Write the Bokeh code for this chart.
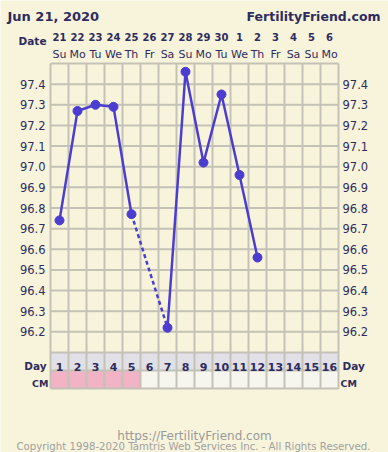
from bokeh.plotting import figure
from bokeh.models import Range1d
from bokeh.embed import file_html
from bokeh.resources import INLINE
from bokeh.core.properties import value
import math

# ---------------- data ----------------
title_date = "Jun 21, 2020"
site_name = "FertilityFriend.com"
cycle_days = list(range(1, 17))
dates = ["21", "22", "23", "24", "25", "26", "27", "28", "29", "30",
         "1", "2", "3", "4", "5", "6"]
weekdays = ["Su", "Mo", "Tu", "We", "Th", "Fr", "Sa", "Su",
            "Mo", "Tu", "We", "Th", "Fr", "Sa", "Su", "Mo"]
temp_days = list(range(1, 13))
temps = [96.74, 97.27, 97.30, 97.29, 96.77, None, 96.22,
         97.46, 97.02, 97.35, 96.96, 96.56]
temp_ticks = [96.2, 96.3, 96.4, 96.5, 96.6, 96.7, 96.8,
              96.9, 97.0, 97.1, 97.2, 97.3, 97.4]
temp_min, temp_max = 96.1, 97.5
menses_days = [1, 2, 3, 4, 5]
url_text = "https://FertilityFriend.com"
copyright_text = "Copyright 1998-2020 Tamtris Web Services Inc. - All Rights Reserved."

# ---------------- style / layout ----------------
BG = "#F8F4DC"
GRID = "#C4C1B6"
LINE = "#4B3DD0"
NAVY = "#2E2C5E"
DAYROW = "#E0E0E6"
PINK = "#F3B3C6"
EMPTY = "#F6F6EE"
FONT = value("DejaVu Sans")

W, H = 388, 452
OFF = 0
GRID_LEFT, COL_W = 50, 18
GRID_TOP, GRID_BOTTOM = 63, 352
ROW_H = 18
n_cols = len(cycle_days)
K = (GRID_BOTTOM - GRID_TOP) / (temp_max - temp_min)

x_start = 0.5 - (GRID_LEFT - OFF) / COL_W
x_end = 0.5 + (OFF + W - GRID_LEFT) / COL_W
y_end = temp_max + (GRID_TOP - OFF) / K
y_start = temp_min - (OFF + H - GRID_BOTTOM) / K

p = figure(width=W, height=H, x_range=Range1d(x_start, x_end),
           y_range=Range1d(y_start, y_end), x_axis_type=None, y_axis_type=None,
           toolbar_location=None, output_backend="svg", min_border=0,
           background_fill_color=BG, border_fill_color=BG, outline_line_color=None)
p.extra_x_ranges = {"px": Range1d(OFF, OFF + W)}
p.extra_y_ranges = {"px": Range1d(OFF + H, OFF)}

day_top = GRID_BOTTOM
cm_top = GRID_BOTTOM + ROW_H
cm_bottom = cm_top + ROW_H

# table rows
p.quad(left=[d - 0.5 for d in cycle_days], right=[d + 0.5 for d in cycle_days],
       top=[day_top] * n_cols, bottom=[cm_top] * n_cols,
       fill_color=DAYROW, line_color=None, y_range_name="px")
p.quad(left=[d - 0.5 for d in cycle_days], right=[d + 0.5 for d in cycle_days],
       top=[cm_top] * n_cols, bottom=[cm_bottom] * n_cols,
       fill_color=[PINK if d in menses_days else EMPTY for d in cycle_days],
       line_color=None, y_range_name="px")

# grid
vx = [d - 0.5 for d in cycle_days] + [cycle_days[-1] + 0.5]
p.segment(x0=vx, x1=vx, y0=[GRID_TOP] * len(vx), y1=[cm_bottom] * len(vx),
          line_color=GRID, line_width=2, y_range_name="px")
hy = [round(temp_min + 0.1 * i, 1) for i in range(int(round((temp_max - temp_min) / 0.1)) + 1)]
p.segment(x0=[0.5] * len(hy), x1=[n_cols + 0.5] * len(hy), y0=hy, y1=hy,
          line_color=GRID, line_width=2)
p.segment(x0=[0.5, 0.5], x1=[n_cols + 0.5] * 2, y0=[cm_top, cm_bottom], y1=[cm_top, cm_bottom],
          line_color=GRID, line_width=2, y_range_name="px")

# temperature line
ys = [t if t is not None else math.nan for t in temps]
p.line(temp_days, ys, line_color=LINE, line_width=2.5)
# dashed bridges over gaps
known = [(d, t) for d, t in zip(temp_days, temps) if t is not None]
for (d0, t0), (d1, t1) in zip(known[:-1], known[1:]):
    if d1 - d0 > 1:
        p.line([d0, d1], [t0, t1], line_color=LINE, line_width=2.5, line_dash="4 3")
p.scatter([d for d, _ in known], [t for _, t in known], size=9,
          fill_color=LINE, line_color=LINE)

# temperature labels
lbl = [f"{t:.1f}" for t in temp_ticks]
p.text(x=[45] * len(temp_ticks), y=temp_ticks, text=lbl, x_range_name="px",
       text_font=FONT, text_font_size="11.5px", text_color=NAVY,
       text_align="right", text_baseline="middle")
p.text(x=[342] * len(temp_ticks), y=temp_ticks, text=lbl, x_range_name="px",
       text_font=FONT, text_font_size="11.5px", text_color=NAVY,
       text_align="left", text_baseline="middle")

# header
p.text(x=[7], y=[15.5], text=[title_date], x_range_name="px", y_range_name="px",
       text_font=FONT, text_font_size="13px", text_font_style="bold",
       text_color=NAVY, text_align="left", text_baseline="alphabetic")
p.text(x=[380], y=[15.5], text=[site_name], x_range_name="px", y_range_name="px",
       text_font=FONT, text_font_size="12.5px", text_font_style="bold",
       text_color=NAVY, text_align="right", text_baseline="alphabetic")
p.text(x=[46], y=[40], text=["Date"], x_range_name="px", y_range_name="px",
       text_font=FONT, text_font_size="10.5px", text_font_style="bold",
       text_color=NAVY, text_align="right", text_baseline="alphabetic")
p.text(x=cycle_days, y=[36.5] * n_cols, text=dates, y_range_name="px",
       text_font=FONT, text_font_size="10px", text_font_style="bold",
       text_color=NAVY, text_align="center", text_baseline="alphabetic")
p.text(x=cycle_days, y=[54] * n_cols, text=weekdays, y_range_name="px",
       text_font=FONT, text_font_size="11px",
       text_color=NAVY, text_align="center", text_baseline="alphabetic")

# day / cm rows
p.text(x=cycle_days, y=[366] * n_cols, text=[str(d) for d in cycle_days], y_range_name="px",
       text_font=FONT, text_font_size="11px", text_font_style="bold",
       text_color=NAVY, text_align="center", text_baseline="alphabetic")
p.text(x=[46, 342], y=[365, 365], text=["Day", "Day"], x_range_name="px", y_range_name="px",
       text_font=FONT, text_font_size="10.5px", text_font_style="bold",
       text_color=NAVY, text_align=["right", "left"], text_baseline="alphabetic")
p.text(x=[48, 340], y=[383, 383], text=["CM", "CM"], x_range_name="px", y_range_name="px",
       text_font=FONT, text_font_size="9.5px", text_font_style="bold",
       text_color=NAVY, text_align=["right", "left"], text_baseline="alphabetic")

# footer
p.text(x=[194], y=[435], text=[url_text], x_range_name="px", y_range_name="px",
       text_font=FONT, text_font_size="12px", text_color="#9A9A9A",
       text_align="center", text_baseline="alphabetic")
p.text(x=[193], y=[446], text=[copyright_text], x_range_name="px", y_range_name="px",
       text_font=FONT, text_font_size="10.2px", text_color="#A0A0A0",
       text_align="center", text_baseline="alphabetic")

open("out.html", "w").write(file_html(p, INLINE))
